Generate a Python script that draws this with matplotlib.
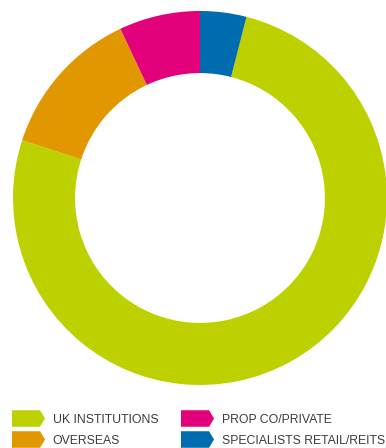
import matplotlib.pyplot as plt
from matplotlib.lines import Line2D
from matplotlib.path import Path

# shares of the donut, in percent
labels = ['UK INSTITUTIONS', 'OVERSEAS', 'PROP CO/PRIVATE', 'SPECIALISTS RETAIL/REITS']
shares = [76, 13, 7, 4]
colors = ['#bdd100', '#e19700', '#e3007b', '#006cb0']

plt.rcParams['font.family'] = ['Liberation Sans', 'DejaVu Sans']

W, H = 386, 448
fig = plt.figure(figsize=(W / 100, H / 100), dpi=100)

# donut: centre (200, 198) px, outer radius 187 px
R = 187
ax = fig.add_axes([(200 - R) / W, (H - 198 - R) / H, 2 * R / W, 2 * R / H])
start = 90 - shares[-1] / sum(shares) * 360
ax.pie(shares, colors=colors, startangle=start, counterclock=False, radius=1,
       wedgeprops=dict(width=0.332, linewidth=0))
ax.set_xlim(-1, 1)
ax.set_ylim(-1, 1)
ax.set_aspect('equal')
ax.axis('off')

# arrow shaped legend keys
arrow = Path([(-1, -0.5), (0.7, -0.5), (1, 0), (0.7, 0.5), (-1, 0.5), (-1, -0.5)],
             [Path.MOVETO, Path.LINETO, Path.LINETO, Path.LINETO, Path.LINETO, Path.CLOSEPOLY])

key_x = [28, 196.7]
text_x = [52.7, 221.7]
row_y = [417.5, 438.5]
for i, (lab, col) in enumerate(zip(labels, colors)):
    c, r = i // 2, i % 2
    fig.add_artist(Line2D([key_x[c] / W], [1 - row_y[r] / H], transform=fig.transFigure,
                          marker=arrow, markersize=23.8, color=col, markeredgewidth=0,
                          linestyle='none'))
    fig.text(text_x[c] / W, 1 - (row_y[r] + 5.8) / H, lab, fontsize=8.8,
             color='#3c3c3c', va='baseline', ha='left')

fig.savefig('out.png', dpi=100)
